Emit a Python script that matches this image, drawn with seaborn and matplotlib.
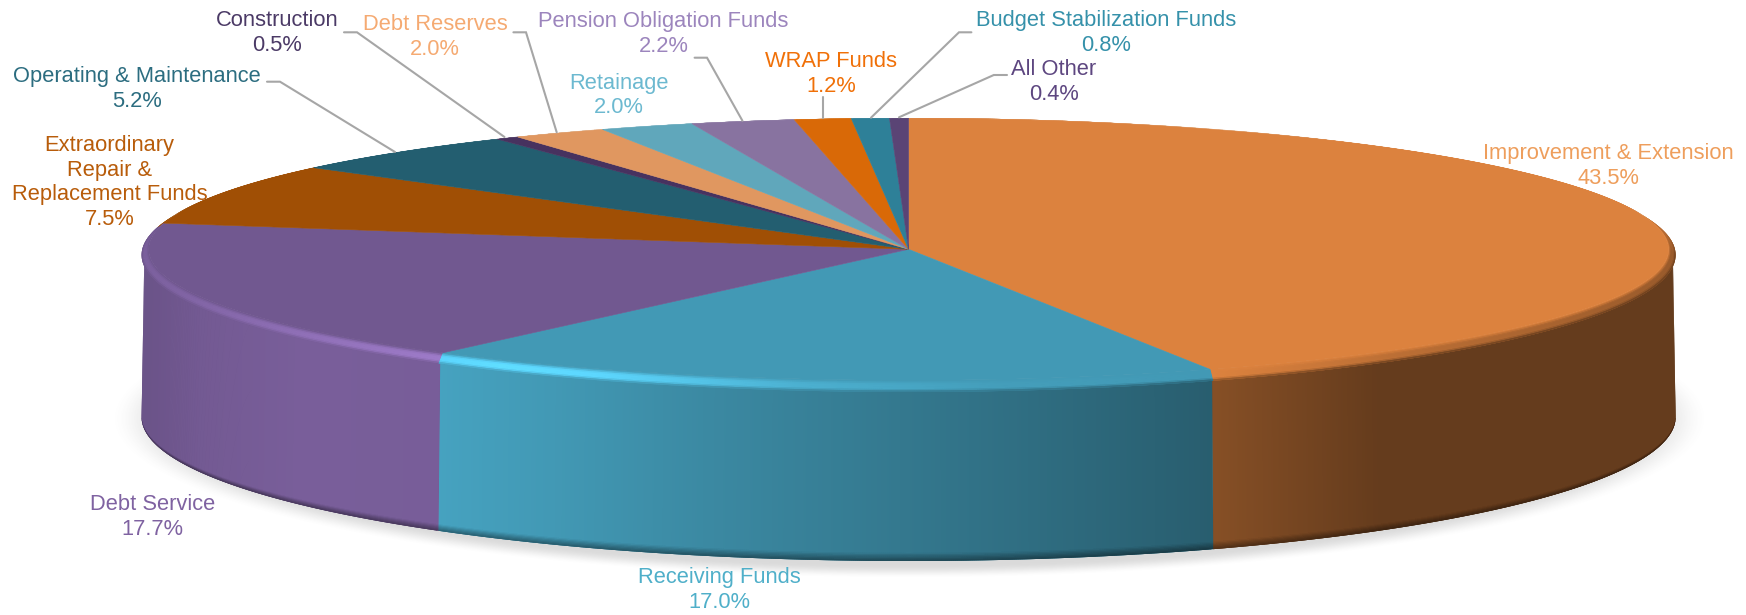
import numpy as np
import matplotlib
matplotlib.use("Agg")
import matplotlib.pyplot as plt
from matplotlib.collections import PolyCollection
from matplotlib.colors import to_rgb
import seaborn as sns

# ---------- data ----------
names = ["Improvement & Extension", "Receiving Funds", "Debt Service",
         "Extraordinary\nRepair &\nReplacement Funds", "Operating & Maintenance",
         "Construction", "Debt Reserves", "Retainage", "Pension Obligation Funds",
         "WRAP Funds", "Budget Stabilization Funds", "All Other"]
shares = [43.5, 17.0, 17.7, 7.5, 5.2, 0.5, 2.0, 2.0, 2.2, 1.2, 0.8, 0.4]
face_colors = ["#DC823E", "#4299B5", "#715890", "#A04F05", "#235E70", "#47325F",
               "#E09760", "#60A7BB", "#8873A0", "#D96907", "#2E8098", "#5A4475"]
text_colors = ["#EE9E5C", "#4FAFC9", "#7F62A1", "#B85C0A", "#2C6D80", "#4B3A66",
               "#F5AA72", "#6CB9D0", "#9C85BD", "#F07008", "#3591AA", "#5D4680"]
label_x = [1608, 719, 152.5, 109.4, 137, 277, 435, 619, 663.6, 830.8, 1106, 1054]
label_y = [166, 590, 517, 182.5, 89, 33, 37, 95.5, 34, 74.4, 33, 82.4]
leaders = [[(344, 32.3), (357, 32.3), (504.5, 137)],
           [(513.4, 32.3), (526, 32.3), (556.7, 132.3)],
           [(267, 81.7), (280, 81.7), (395, 152)],
           [(694.6, 57.7), (707, 57.7), (742.4, 120.7)],
           [(822.8, 97.3), (822.8, 118.3)],
           [(971.4, 32.3), (959, 32.3), (871, 117.7)],
           [(1007, 75), (993.8, 75), (899, 117.3)]]

# ---------- geometry / lighting ----------
CX = 908.6
TOP = dict(cy=249.3, rx=760.0, ry=131.0)     # flat top face
RIM = dict(cy=255.0, rx=767.0, ry=137.0)     # outer edge of the bevel
LOW = dict(cy=416.5, rx=767.0, ry=136.5)     # start of dark foot
FOOT = dict(cy=417.0, rx=767.0, ry=144.0)    # bottom silhouette

wall_x = [142, 200, 300, 438, 550, 700, 950, 1215, 1380, 1675]
wall_l = [.95, 1.02, 1.07, 1.06, 1.0, .9, .76, .61, .46, .46]
glow_x = [142, 300, 500, 600, 800, 1000, 1215, 1400, 1675]
glow_l = [1.10, 1.27, 1.45, 1.40, 1.15, 1.03, 1.0, .85, .70]

sns.set_theme(style="white", font="Liberation Sans")
palette = sns.color_palette(face_colors)
text_palette = sns.color_palette(text_colors)

fig = plt.figure(figsize=(17.46, 6.15), dpi=100, facecolor="white")
ax = fig.add_axes([0, 0, 1, 1])
ax.set_xlim(0, 1746)
ax.set_ylim(615, 0)
ax.axis("off")


def point(theta, e):
    return CX + e["rx"] * np.sin(theta), e["cy"] - e["ry"] * np.cos(theta)


def strips(t, e0, e1, colour_fn, zorder):
    """Overlapping thin quads between two ellipses, painted in angular order,
    so no background shows through the seams."""
    x0, y0 = point(t, e0)
    x1, y1 = point(t, e1)
    j = np.minimum(np.arange(len(t) - 1) + 2, len(t) - 1)
    i = np.arange(len(t) - 1)
    quads = np.stack([np.c_[x0[i], y0[i]], np.c_[x0[j], y0[j]],
                      np.c_[x1[j], y1[j]], np.c_[x1[i], y1[i]]], axis=1)
    cols = np.clip(colour_fn(0.5 * (t[:-1] + t[1:])), 0, 1)
    ax.add_collection(PolyCollection(quads, facecolors=cols, edgecolors="none",
                                     linewidths=0, zorder=zorder))


def mix(e0, e1, v):
    return {k: e0[k] + (e1[k] - e0[k]) * v for k in e0}


def underlay(t, e0, e1, colour, zorder):
    x0, y0 = point(t, e0)
    x1, y1 = point(t, e1)
    ax.fill(np.r_[x0, x1[::-1]], np.r_[y0, y1[::-1]], color=colour, lw=0, zorder=zorder)


# soft shadow on the ground
gx, gy = np.meshgrid(np.arange(0, 1746, 2.0), np.arange(300, 615, 1.0))
rr = np.hypot((gx - CX) / 800.0, (gy - 418.0) / 160.0)
s = np.clip((1 - rr) / 0.085, 0, 1)
rgba = np.zeros(gx.shape + (4,))
rgba[..., :3] = 0.35
rgba[..., 3] = 0.22 * s * s * (3 - 2 * s)
ax.imshow(rgba, extent=(0, 1746, 615, 300), aspect="auto", zorder=1, interpolation="bilinear")
ax.set_xlim(0, 1746)
ax.set_ylim(615, 0)

edges = np.r_[0, np.cumsum(shares)] / np.sum(shares) * 2 * np.pi

for i, base in enumerate(palette):
    base = np.array(to_rgb(base))
    a, b = edges[i], edges[i + 1]
    n = max(int((b - a) * 400), 8)
    t_all = np.linspace(a, b, n)

    def wall_col(t):
        x = CX + RIM["rx"] * np.sin(t)
        return np.outer(np.interp(x, wall_x, wall_l), base)

    # side wall + dark foot (front half only)
    fa, fb = max(a, np.pi / 2), min(b, 3 * np.pi / 2)
    if fb > fa:
        tf = np.linspace(fa, fb, max(int((fb - fa) * 400), 8))
        side = fa if abs(np.sin(fa)) > abs(np.sin(fb)) else fb
        side_col = np.clip(wall_col(np.array([side]))[0], 0, 1)
        underlay(tf, mix(TOP, RIM, 0.5), FOOT, side_col, 2.5)
        strips(tf, mix(TOP, RIM, 0.6), mix(LOW, FOOT, 0.5), wall_col, 3)
        nf = 6
        for k in range(nf):
            v0, v1 = k / nf, min((k + 1.6) / nf, 1)
            fac = 1 - 0.40 * ((k + 0.5) / nf) ** 0.9
            strips(tf, mix(LOW, FOOT, v0), mix(LOW, FOOT, v1),
                   lambda t, f=fac: wall_col(t) * f, 4 + k * 0.01)

    # bevel: top colour -> glow (held across the middle) -> wall colour
    def bevel(v):
        def fn(t):
            x = CX + RIM["rx"] * np.sin(t)
            glow = np.outer(np.interp(x, glow_x, glow_l), base)
            front = np.clip((-np.cos(t) + 0.3) / 0.3, 0, 1)[:, None]
            wall = wall_col(t) * front + base * (1 - front)
            glow = glow * front + base * (1 - front)
            if v < 0.35:
                w = v / 0.35
                return base * (1 - w) + glow * w
            if v < 0.75:
                return glow
            w = (v - 0.75) / 0.25
            return glow * (1 - w) + wall * w
        return fn

    m = 8
    underlay(t_all, TOP, RIM, base, 4.5)
    for k in range(m):
        strips(t_all, mix(TOP, RIM, k / m), mix(TOP, RIM, min((k + 1.6) / m, 1)),
               bevel((k + 0.5) / m), 5 + k * 0.01)

    # flat top wedge
    xt, yt = point(t_all, TOP)
    ax.fill(np.r_[CX, xt], np.r_[TOP["cy"], yt], color=base, lw=0.4, zorder=6)

# leader lines
for path in leaders:
    xs, ys = zip(*path)
    ax.plot(xs, ys, color="#A6A6A6", lw=1.5, zorder=7, solid_joinstyle="miter")

# labels
for name, val, x, y, c in zip(names, shares, label_x, label_y, text_palette):
    ax.text(x, y, f"{name}\n{val:.1f}%", color=c, ha="center", va="center",
            fontsize=15.75, linespacing=1.24, family="Liberation Sans", zorder=8)

fig.savefig("out.png", dpi=100, facecolor="white")
